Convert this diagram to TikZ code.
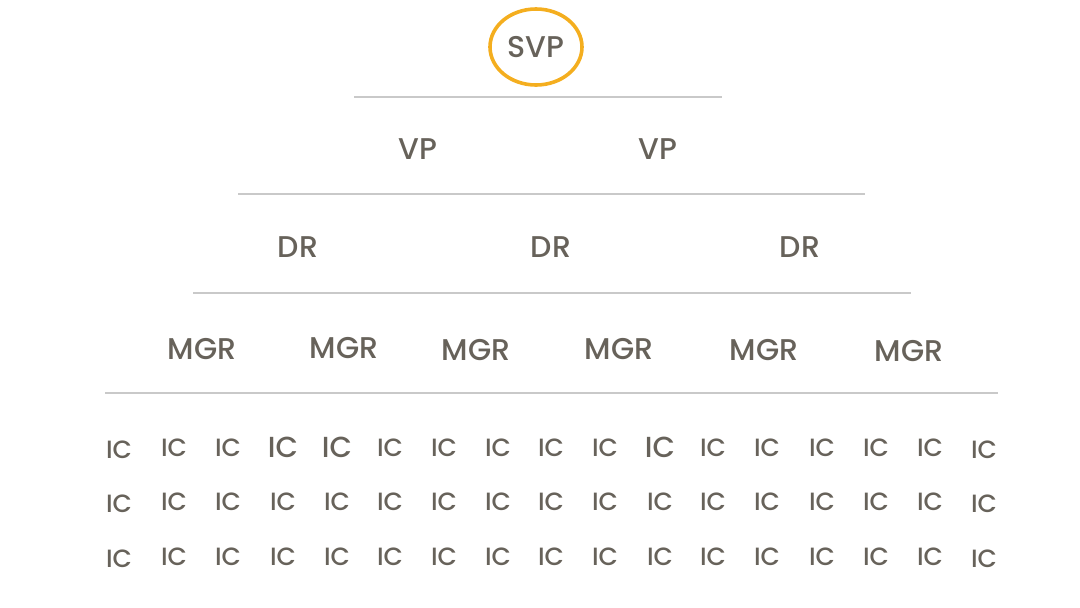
\documentclass[tikz,border=0pt]{standalone}
\usepackage{fontspec}
\setmainfont{Poppins}[UprightFont=* Medium]
\definecolor{txt}{HTML}{67625A}
\definecolor{rule}{HTML}{C9C9C9}
\definecolor{ring}{HTML}{F4AE1F}
\begin{document}
\begin{tikzpicture}[x=1pt,y=-1pt,
  lbl/.style={text=txt,font=\fontsize{30}{30}\selectfont,inner sep=0pt,anchor=center},
  ic/.style={text=txt,font=\fontsize{25}{25}\selectfont,inner sep=0pt,anchor=center},
  icbig/.style={text=txt,font=\fontsize{29}{29}\selectfont,inner sep=0pt,anchor=center},
  sep/.style={draw=rule,line width=1.2pt}]
\useasboundingbox (0,0) rectangle (1080,608);
\node[lbl] (svp) at (536,47) {SVP};
\draw[ring,line width=3.6pt] (536,47) ellipse (46 and 38);
\draw[sep] (354,97) -- (722,97);
\node[lbl] (vp1) at (418,149) {VP};
\node[lbl] (vp2) at (658,149) {VP};
\draw[sep] (238,194) -- (865,194);
\node[lbl] (dr1) at (298,247) {DR};
\node[lbl] (dr2) at (551,247) {DR};
\node[lbl] (dr3) at (800,247) {DR};
\draw[sep] (193,293) -- (911,293);
\node[lbl] (m1) at (202,349) {MGR};
\node[lbl] (m2) at (344,348) {MGR};
\node[lbl] (m3) at (476,350) {MGR};
\node[lbl] (m4) at (619,349) {MGR};
\node[lbl] (m5) at (764,350) {MGR};
\node[lbl] (m6) at (909,351) {MGR};
\draw[sep] (105,393) -- (998,393);
\foreach \x [count=\i] in {119,174,228,283,337,390,444,498,551,605,660,713,767,822,876,930,984}{
  \pgfmathsetmacro{\dy}{(\i==1 || \i==17) ? 2 : 0}
  \ifnum\i=4 \node[icbig] (ica\i) at (\x,447) {IC};
  \else\ifnum\i=5 \node[icbig] (ica\i) at (\x,447) {IC};
  \else\ifnum\i=11 \node[icbig] (ica\i) at (\x,447) {IC};
  \else \node[ic] (ica\i) at (\x,448+\dy) {IC};
  \fi\fi\fi
  \node[ic] (icb\i) at (\x,502+\dy) {IC};
  \node[ic] (icc\i) at (\x,557+\dy) {IC};
}
\end{tikzpicture}
\end{document}
